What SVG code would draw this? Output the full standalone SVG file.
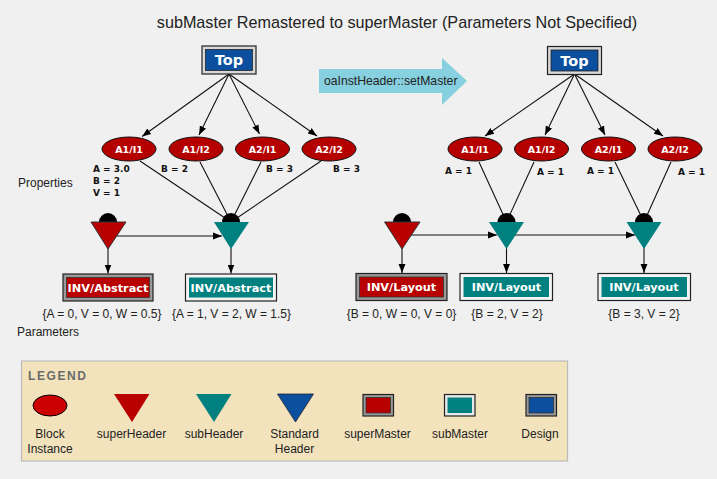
<svg xmlns="http://www.w3.org/2000/svg" width="717" height="479" viewBox="0 0 717 479">
<defs>
<marker id="ah" viewBox="0 0 10 10" refX="10" refY="5" markerWidth="9" markerHeight="9" markerUnits="userSpaceOnUse" orient="auto"><path d="M0,1.2 L10,5 L0,8.8 Z" fill="#000"/></marker>
<style>
.t{font-family:"Liberation Sans",Arial,sans-serif;fill:#222}
.nb{font-family:"DejaVu Sans",Verdana,sans-serif;font-weight:bold;fill:#fff;text-anchor:middle}
.pb{font-family:"DejaVu Sans",Verdana,sans-serif;font-weight:bold;font-size:9px;fill:#111}
.c{stroke:#111;stroke-width:1.1;fill:none}
.ca{stroke:#111;stroke-width:1.1;fill:none;marker-end:url(#ah)}
.ell{fill:#b50000;stroke:#111;stroke-width:1}
.out{stroke:#222;stroke-width:1.2}
.semi{fill:#000}
.sup{fill:#b80000;stroke:#333;stroke-width:1}
.sub{fill:#00807f}
.mid{text-anchor:middle}
</style>
</defs>
<rect width="717" height="479" fill="#f0f0f0"/>
<text class="t" x="397" y="27.5" font-size="16.2" text-anchor="middle">subMaster Remastered to superMaster (Parameters Not Specified)</text>

<g id="setmaster-arrow">
<polygon points="319,69 442,69 442,58 467,81 442,105 442,93 319,93" fill="#87d0df"/>
<text class="t" x="324" y="85" font-size="12.2">oaInstHeader::setMaster</text>
</g>

<g id="connectors">
<line class="ca" x1="229" y1="74" x2="142" y2="136.5"/>
<line class="ca" x1="229" y1="74" x2="199" y2="135"/>
<line class="ca" x1="229" y1="74" x2="259.5" y2="134"/>
<line class="ca" x1="229" y1="74" x2="317" y2="136"/>
<line class="c" x1="140" y1="161" x2="231" y2="222"/>
<line class="c" x1="200" y1="162" x2="231" y2="222"/>
<line class="c" x1="261" y1="162" x2="231" y2="222"/>
<line class="c" x1="321" y1="161" x2="231" y2="222"/>
<line class="ca" x1="110" y1="236" x2="222" y2="236"/>
<line class="ca" x1="108" y1="245" x2="108" y2="273.5"/>
<line class="ca" x1="231" y1="245" x2="231" y2="273.5"/>

<line class="ca" x1="574.5" y1="74" x2="485" y2="136"/>
<line class="ca" x1="574.5" y1="74" x2="545" y2="135"/>
<line class="ca" x1="574.5" y1="74" x2="605" y2="135"/>
<line class="ca" x1="574.5" y1="74" x2="663" y2="136"/>
<line class="c" x1="479" y1="162" x2="506.5" y2="222"/>
<line class="c" x1="534" y1="162" x2="506.5" y2="222"/>
<line class="c" x1="615" y1="162" x2="644" y2="222"/>
<line class="c" x1="671" y1="162" x2="644" y2="222"/>
<line class="ca" x1="404" y1="235" x2="497" y2="235"/>
<line class="ca" x1="510" y1="235" x2="635" y2="235"/>
<line class="ca" x1="402" y1="245" x2="402" y2="273"/>
<line class="ca" x1="506.5" y1="245" x2="506.5" y2="273"/>
<line class="ca" x1="644" y1="245" x2="644" y2="273" stroke="#555"/>
</g>

<g id="top-left">
<rect class="out" x="202" y="46" width="54" height="28" fill="#d8d8d8"/>
<rect x="205.5" y="49.5" width="47" height="21" fill="#0b4f9e" stroke="#222" stroke-width="0.8"/>
<text class="nb" x="229" y="65" font-size="14.5">Top</text>
</g>
<g id="top-right">
<rect class="out" x="547.5" y="46.5" width="54" height="28" fill="#d8d8d8"/>
<rect x="551" y="50" width="47" height="21" fill="#0b4f9e" stroke="#222" stroke-width="0.8"/>
<text class="nb" x="574.5" y="65.5" font-size="14.5">Top</text>
</g>

<g id="L-A1-I1"><ellipse class="ell" cx="129" cy="149" rx="27" ry="12"/><text class="nb" x="129" y="152.5" font-size="9.5">A1/I1</text></g>
<g id="L-A1-I2"><ellipse class="ell" cx="196" cy="149" rx="27" ry="12"/><text class="nb" x="196" y="152.5" font-size="9.5">A1/I2</text></g>
<g id="L-A2-I1"><ellipse class="ell" cx="262.5" cy="149" rx="27" ry="12"/><text class="nb" x="262.5" y="152.5" font-size="9.5">A2/I1</text></g>
<g id="L-A2-I2"><ellipse class="ell" cx="329" cy="149" rx="27" ry="12"/><text class="nb" x="329" y="152.5" font-size="9.5">A2/I2</text></g>

<g id="R-A1-I1"><ellipse class="ell" cx="475" cy="149" rx="27" ry="12"/><text class="nb" x="475" y="152.5" font-size="9.5">A1/I1</text></g>
<g id="R-A1-I2"><ellipse class="ell" cx="541.5" cy="149" rx="27" ry="12"/><text class="nb" x="541.5" y="152.5" font-size="9.5">A1/I2</text></g>
<g id="R-A2-I1"><ellipse class="ell" cx="608.5" cy="149" rx="27" ry="12"/><text class="nb" x="608.5" y="152.5" font-size="9.5">A2/I1</text></g>
<g id="R-A2-I2"><ellipse class="ell" cx="675" cy="149" rx="27" ry="12"/><text class="nb" x="675" y="152.5" font-size="9.5">A2/I2</text></g>

<g id="properties">
<text class="pb" x="93" y="171.5">A = 3.0</text>
<text class="pb" x="93" y="184">B = 2</text>
<text class="pb" x="93" y="196">V = 1</text>
<text class="pb" x="161" y="171.5">B = 2</text>
<text class="pb" x="266" y="171.5">B = 3</text>
<text class="pb" x="333" y="171.5">B = 3</text>
<text class="pb" x="445" y="173.5">A = 1</text>
<text class="pb" x="537" y="174.5">A = 1</text>
<text class="pb" x="587" y="173.5">A = 1</text>
<text class="pb" x="678" y="174.5">A = 1</text>
<text class="t" x="18" y="187" font-size="12">Properties</text>
</g>

<g id="L-superHeader"><path class="semi" d="M99,222 A9,9 0 0 1 117,222 Z"/><polygon class="sup" points="91,222 126,222 108,249"/></g>
<g id="L-subHeader"><path class="semi" d="M222,222 A9,9 0 0 1 240,222 Z"/><polygon class="sub" points="214,222 249,222 231,249"/></g>
<g id="R-superHeader"><path class="semi" d="M393,222 A9,9 0 0 1 411,222 Z"/><polygon class="sup" points="384.5,222 420,222 402,249"/></g>
<g id="R-subHeader1"><path class="semi" d="M497.5,222 A9,9 0 0 1 515.5,222 Z"/><polygon class="sub" points="489,222 524,222 506.5,249"/></g>
<g id="R-subHeader2"><path class="semi" d="M635,222 A9,9 0 0 1 653,222 Z"/><polygon class="sub" points="626.5,222 661.5,222 644,249"/></g>

<g id="L-superMaster">
<rect class="out" x="63" y="274" width="90" height="27" fill="#9a9a9a"/>
<rect x="66.5" y="277.5" width="83" height="20" fill="#b80000" stroke="#333" stroke-width="0.8"/>
<text class="nb" x="108" y="291.5" font-size="11.3">INV/Abstract</text>
<text class="t mid" x="102" y="318" font-size="12">{A = 0, V = 0, W = 0.5}</text>
</g>
<g id="L-subMaster">
<rect class="out" x="185.5" y="274" width="91" height="27" fill="#f4f4f4"/>
<rect x="189" y="277.5" width="84" height="20" fill="#00807f"/>
<text class="nb" x="231" y="291.5" font-size="11.3">INV/Abstract</text>
<text class="t mid" x="231.5" y="318" font-size="12">{A = 1, V = 2, W = 1.5}</text>
</g>
<text class="t" x="17" y="336" font-size="12">Parameters</text>

<g id="R-superMaster">
<rect class="out" x="356" y="273.5" width="91" height="27" fill="#9a9a9a"/>
<rect x="359.5" y="277" width="84" height="20" fill="#b80000" stroke="#333" stroke-width="0.8"/>
<text class="nb" x="401.5" y="291" font-size="11.3">INV/Layout</text>
<text class="t mid" x="401.5" y="318" font-size="12">{B = 0, W = 0, V = 0}</text>
</g>
<g id="R-subMaster1">
<rect class="out" x="460" y="273.5" width="92.5" height="27" fill="#f4f4f4"/>
<rect x="463.5" y="277" width="85.5" height="20" fill="#00807f"/>
<text class="nb" x="506.5" y="291" font-size="11.3">INV/Layout</text>
<text class="t mid" x="507" y="318" font-size="12">{B = 2, V = 2}</text>
</g>
<g id="R-subMaster2">
<rect class="out" x="598" y="273.5" width="92.5" height="27" fill="#f4f4f4"/>
<rect x="601.5" y="277" width="85.5" height="20" fill="#00807f"/>
<text class="nb" x="644" y="291" font-size="11.3">INV/Layout</text>
<text class="t mid" x="644" y="318" font-size="12">{B = 3, V = 2}</text>
</g>

<g id="legend">
<rect x="21.5" y="361" width="546" height="100" fill="#f3e3bd" stroke="#bbb" stroke-width="1.2"/>
<text x="28" y="380" font-family="Liberation Sans,Arial,sans-serif" font-weight="bold" font-size="12" letter-spacing="1.6" fill="#6a6a6a">LEGEND</text>
<ellipse cx="50" cy="405.5" rx="17" ry="10.5" fill="#cc0000" stroke="#000" stroke-width="1"/>
<polygon points="114,394 149.5,394 132,422" fill="#b80000"/>
<polygon points="196,394 231.5,394 214,422" fill="#00807f"/>
<polygon points="277.5,394 313.5,394 295.5,422" fill="#0b4f9e" stroke="#223" stroke-width="0.8"/>
<rect class="out" x="363" y="394.5" width="30.5" height="21.5" fill="#9a9a9a"/>
<rect x="366" y="397.5" width="24.5" height="15.5" fill="#b80000" stroke="#333" stroke-width="0.8"/>
<rect class="out" x="444.5" y="394.5" width="30.5" height="21.5" fill="#e8e8e8"/>
<rect x="447.5" y="397.5" width="24.5" height="15.5" fill="#00807f"/>
<rect class="out" x="526" y="394.5" width="30.5" height="21.5" fill="#9a9a9a"/>
<rect x="529" y="397.5" width="24.5" height="15.5" fill="#0b4f9e" stroke="#333" stroke-width="0.8"/>
<g class="t mid" font-size="12">
<text x="50" y="437.5">Block</text>
<text x="50" y="452.5">Instance</text>
<text x="131.5" y="437.5">superHeader</text>
<text x="214" y="437.5">subHeader</text>
<text x="294.5" y="437.5">Standard</text>
<text x="294.5" y="452.5">Header</text>
<text x="377.5" y="437.5">superMaster</text>
<text x="460" y="437.5">subMaster</text>
<text x="540" y="437.5">Design</text>
</g>
</g>
</svg>
